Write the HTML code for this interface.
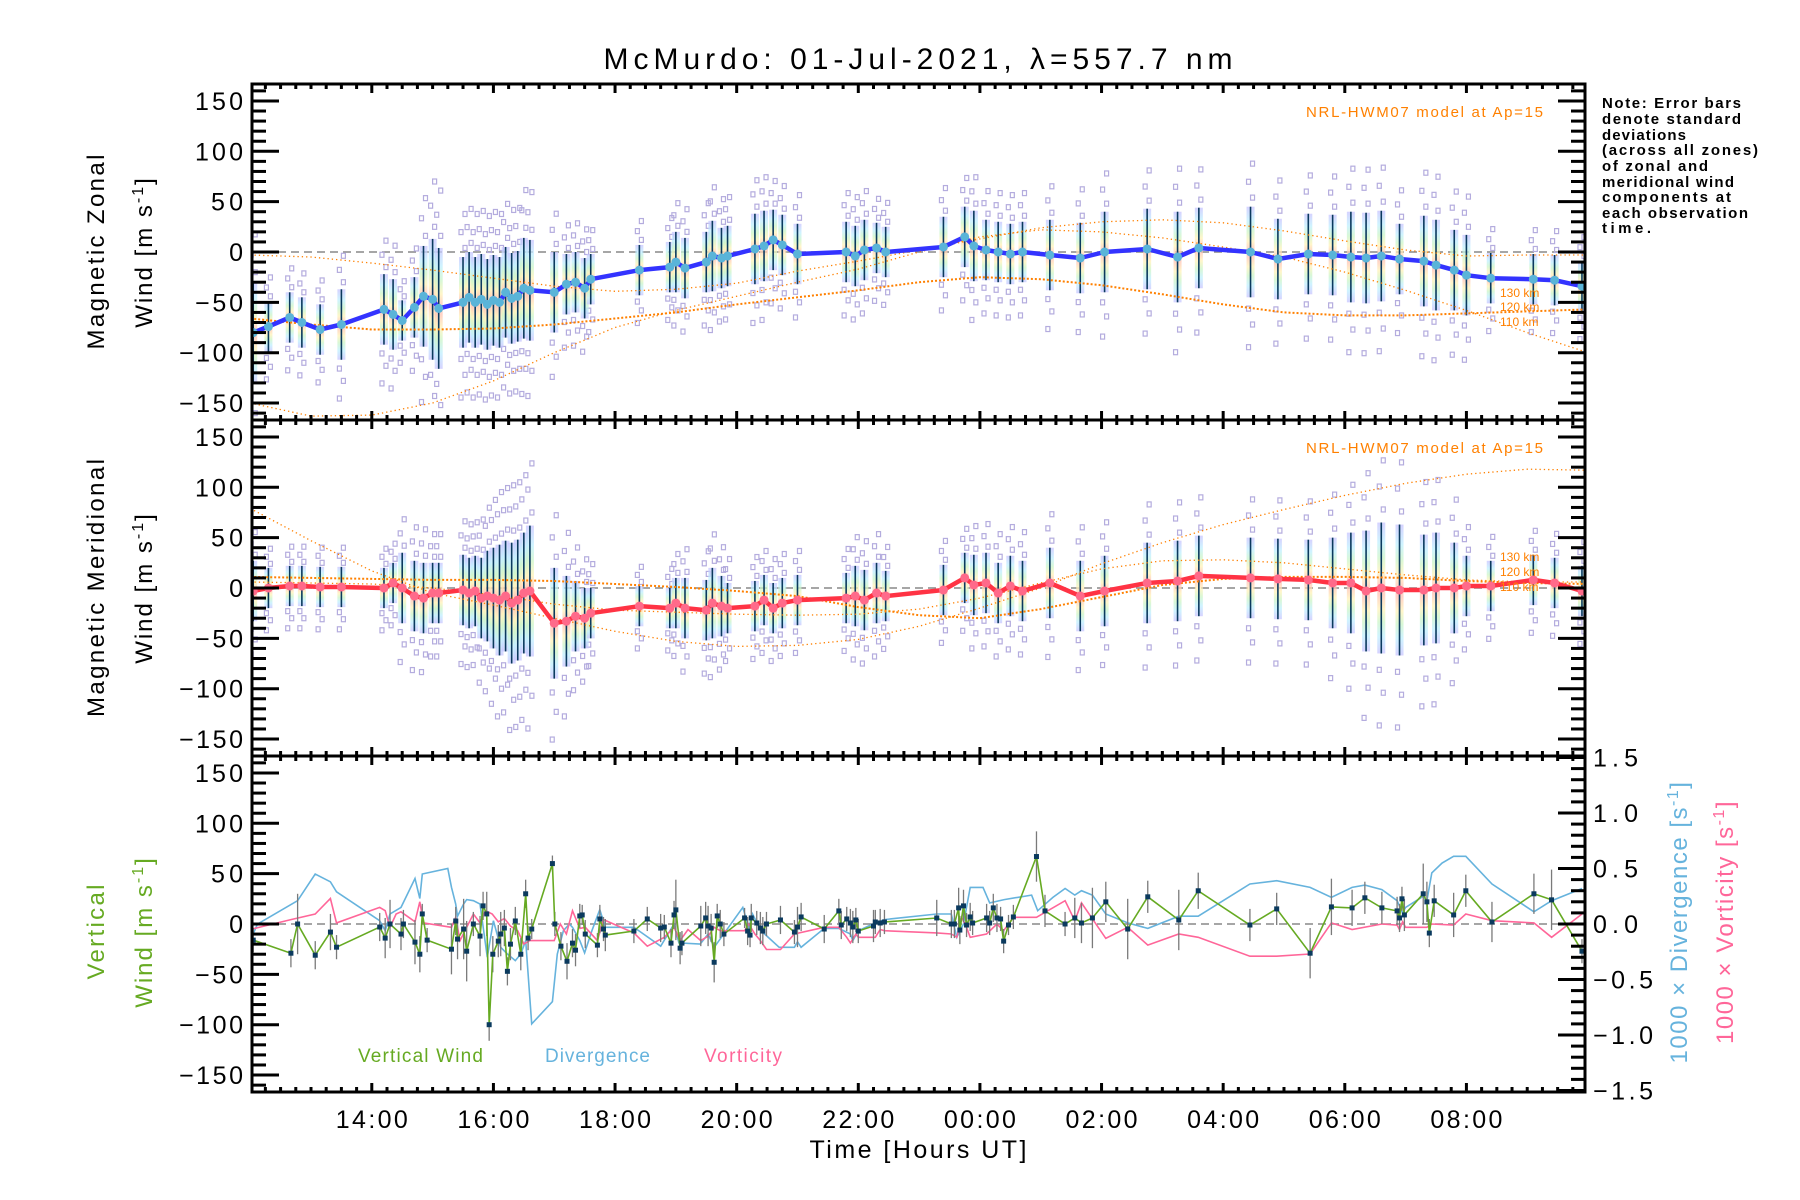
<!DOCTYPE html>
<html><head><meta charset="utf-8"><title>McMurdo winds</title>
<style>
html,body{margin:0;padding:0;background:#fff;}
svg{display:block;font-family:"Liberation Sans",sans-serif;}
</style></head>
<body>
<svg id="chart" width="1800" height="1200" viewBox="0 0 1800 1200" xmlns="http://www.w3.org/2000/svg">
<defs>
<linearGradient id="strip" x1="0" y1="0" x2="0" y2="1">
<stop offset="0" stop-color="#c8c4ff"/><stop offset="0.15" stop-color="#bfefff"/><stop offset="0.27" stop-color="#ccf5c8"/><stop offset="0.38" stop-color="#fff3b8"/><stop offset="0.47" stop-color="#ffc4b4"/><stop offset="0.55" stop-color="#ffc4b4"/><stop offset="0.66" stop-color="#fff3b8"/><stop offset="0.76" stop-color="#ccf5c8"/><stop offset="0.87" stop-color="#bfefff"/><stop offset="1" stop-color="#c8c4ff"/>
</linearGradient>
<clipPath id="clip0"><rect x="252" y="84" width="1333" height="336"/></clipPath>
<clipPath id="clip1"><rect x="252" y="420" width="1333" height="336"/></clipPath>
<clipPath id="clip2"><rect x="252" y="756" width="1333" height="336"/></clipPath>
</defs>
<text x="918" y="69" font-size="30" text-anchor="middle" textLength="629">McMurdo: 01-Jul-2021, λ=557.7 nm</text>
<g id="layer"></g>
<g font-size="15" font-weight="bold">
<text x="1602" y="108" textLength="139">Note: Error bars</text>
<text x="1602" y="124" textLength="139">denote standard</text>
<text x="1602" y="140" textLength="84">deviations</text>
<text x="1602" y="155" textLength="156">(across all zones)</text>
<text x="1602" y="171" textLength="106">of zonal and</text>
<text x="1602" y="187" textLength="132">meridional wind</text>
<text x="1602" y="202" textLength="129">components at</text>
<text x="1602" y="218" textLength="146">each observation</text>
<text x="1602" y="233" textLength="49">time.</text>
</g>
<text transform="translate(104,252) rotate(-90)" font-size="24" text-anchor="middle" textLength="195">Magnetic Zonal</text>
<text transform="translate(152,252) rotate(-90)" font-size="24" text-anchor="middle" letter-spacing="2">Wind [m s<tspan dy="-9" font-size="16">-1</tspan><tspan dy="9">]</tspan></text>
<text transform="translate(104,588) rotate(-90)" font-size="24" text-anchor="middle" textLength="258">Magnetic Meridional</text>
<text transform="translate(152,588) rotate(-90)" font-size="24" text-anchor="middle" letter-spacing="2">Wind [m s<tspan dy="-9" font-size="16">-1</tspan><tspan dy="9">]</tspan></text>
<text transform="translate(104,932) rotate(-90)" font-size="24" text-anchor="middle" fill="#66aa22" textLength="95">Vertical</text>
<text transform="translate(152,932) rotate(-90)" font-size="24" text-anchor="middle" fill="#66aa22" letter-spacing="2">Wind [m s<tspan dy="-9" font-size="16">-1</tspan><tspan dy="9">]</tspan></text>
<text transform="translate(1687,922) rotate(-90)" font-size="24" text-anchor="middle" fill="#66b3dd" letter-spacing="1.5">1000 × Divergence [s<tspan dy="-9" font-size="16">-1</tspan><tspan dy="9">]</tspan></text>
<text transform="translate(1733,922) rotate(-90)" font-size="24" text-anchor="middle" fill="#ff6699" letter-spacing="1.5">1000 × Vorticity [s<tspan dy="-9" font-size="16">-1</tspan><tspan dy="9">]</tspan></text>
<text x="918" y="1158" font-size="25" text-anchor="middle" textLength="217">Time [Hours UT]</text>
<text x="358" y="1062" font-size="19" fill="#66aa22" textLength="125">Vertical Wind</text>
<text x="545" y="1062" font-size="19" fill="#66b3dd" textLength="105">Divergence</text>
<text x="704" y="1062" font-size="19" fill="#ff6699" textLength="78">Vorticity</text>
</svg>
<script>
const obsTimes=[12.05,12.3,12.65,12.85,13.15,13.5,14.2,14.35,14.5,14.7,14.85,15.0,15.1,15.5,15.6,15.7,15.8,15.9,16.0,16.1,16.2,16.3,16.4,16.5,16.6,17.0,17.2,17.35,17.5,17.6,18.4,18.9,19.0,19.15,19.5,19.6,19.75,19.85,20.3,20.45,20.6,20.75,21.0,21.8,21.95,22.1,22.3,22.45,23.4,23.75,23.9,24.1,24.3,24.5,24.7,25.15,25.65,26.05,26.75,27.25,27.6,28.45,28.9,29.4,29.8,30.1,30.35,30.6,30.9,31.3,31.5,31.8,32.0,32.4,33.1,33.45,33.9];
const zonalMean=[-80,-74,-65,-70,-77,-72,-57,-62,-68,-55,-44,-47,-56,-50,-45,-50,-47,-52,-48,-50,-40,-46,-44,-36,-38,-40,-32,-30,-36,-27,-18,-15,-10,-16,-10,-4,-6,-4,3,6,12,7,-2,0,-4,2,4,0,5,15,6,2,0,-2,0,-3,-6,0,3,-5,4,0,-7,-2,-3,-5,-6,-4,-7,-9,-13,-18,-23,-26,-27,-28,-34];
const zonalStd=[50,25,25,25,25,35,35,35,20,30,50,60,60,45,45,45,45,45,45,45,45,45,45,50,50,40,30,30,30,25,25,25,30,30,30,35,30,30,35,35,30,30,30,30,30,30,25,25,30,30,35,30,30,30,30,35,35,40,40,45,40,45,40,40,40,45,45,45,35,45,45,40,40,25,25,25,25];
const meridMean=[-3,0,2,2,1,1,0,5,0,-8,-10,-5,-5,-2,-5,-3,-10,-8,-10,-12,-8,-15,-12,-5,-3,-35,-33,-28,-30,-25,-18,-20,-15,-20,-22,-15,-18,-20,-18,-12,-20,-15,-12,-10,-8,-12,-5,-8,-2,10,3,5,-5,2,-3,5,-8,-3,5,7,12,10,9,8,5,5,-3,0,-2,-2,0,0,2,2,8,5,-3];
const meridStd=[30,20,20,20,20,20,20,20,35,35,35,30,30,35,35,35,40,45,50,55,55,60,60,60,65,55,45,35,30,25,20,20,25,30,30,35,30,25,25,25,25,25,25,25,30,30,30,25,25,25,30,30,30,30,30,35,35,35,40,40,40,40,40,40,45,50,60,65,65,55,55,45,30,25,25,25,25];
const modelHours=[12,13,14,15,16,17,18,19,20,21,22,23,24,25,26,27,28,29,30,31,32,33,34];
const zonalModel130=[-3,-5,-11,-18,-26,-34,-39,-37,-31,-19,-9,2,13,24,30,32,29,21,11,2,-4,-3,-3];
const zonalModel120=[-66,-72,-77,-77,-76,-72,-66,-60,-52,-45,-38,-30,-25,-27,-33,-42,-52,-60,-63,-63,-61,-59,-57];
const zonalModel110=[-150,-163,-162,-150,-128,-100,-75,-58,-44,-30,-17,0,15,22,20,14,5,-5,-20,-38,-58,-80,-100];
const meridModel130=[6,5,4,0,-7,-16,-22,-24,-26,-27,-26,-21,-10,5,19,27,28,25,19,13,8,6,6];
const meridModel120=[11,10,9,8,8,7,4,1,-3,-8,-19,-27,-30,-21,-9,3,9,11,11,10,7,5,4];
const meridModel110=[79,47,17,-5,-17,-30,-43,-53,-58,-57,-51,-38,-20,0,24,45,63,78,92,104,113,118,117];
const vertTimes=[12.05,12.67,12.78,13.07,13.32,13.42,14.13,14.22,14.30,14.48,14.52,14.71,14.79,14.83,14.91,15.31,15.38,15.41,15.51,15.56,15.67,15.78,15.83,15.89,15.93,15.99,16.08,16.12,16.18,16.23,16.28,16.36,16.45,16.53,16.57,16.63,16.97,17.01,17.11,17.21,17.3,17.35,17.42,17.46,17.51,17.71,17.75,17.81,17.84,18.31,18.53,18.75,18.81,18.92,18.97,19.0,19.07,19.1,19.41,19.49,19.53,19.58,19.63,19.68,19.73,19.79,20.13,20.18,20.22,20.24,20.33,20.39,20.43,20.49,20.72,20.95,21.0,21.06,21.44,21.68,21.72,21.81,21.87,21.91,21.96,22.0,22.25,22.28,22.36,22.43,23.29,23.53,23.58,23.65,23.67,23.73,23.78,23.84,23.88,24.11,24.16,24.22,24.28,24.34,24.39,24.47,24.55,24.93,25.07,25.4,25.56,25.67,25.85,26.07,26.43,26.76,27.27,27.59,28.44,28.88,29.43,29.78,30.12,30.33,30.61,30.86,30.9,30.94,30.98,31.29,31.35,31.39,31.47,31.79,31.99,32.42,33.11,33.4,33.9];
const vertWind=[-16,-29,0,-31,-8,-23,-3,-14,0,-10,0,-18,-30,10,-16,-25,3,-15,-5,-27,0,-12,18,10,-100,-30,-17,-10,-4,-47,-20,3,-30,30,-14,-5,60,0,-22,-37,-19,-26,8,9,-10,-21,5,-5,-11,-7,5,-4,-3,-19,9,14,-24,-19,-2,6,-2,-4,-38,8,0,-10,6,-7,-11,6,1,-4,-7,0,4,-8,-3,7,-5,13,-1,5,1,-3,4,-7,-2,2,1,2,6,0,0,16,-6,18,-1,7,1,6,1,16,6,5,-17,-1,7,67,13,0,6,1,6,22,-5,27,4,33,-1,15,-29,17,16,26,16,13,6,25,9,30,22,-9,23,9,33,2,30,24,-27];
const vertErr=[12,14,30,14,18,12,14,20,24,16,14,22,18,10,12,25,14,20,30,30,12,20,14,22,16,18,16,22,18,14,16,14,16,14,12,10,8,12,14,18,14,16,12,10,14,12,14,12,16,12,12,14,12,14,14,30,16,12,20,16,20,14,20,12,14,12,10,14,12,14,12,16,14,12,14,12,20,14,14,12,14,12,14,16,12,12,16,12,14,12,18,14,14,20,14,16,12,14,12,14,12,14,14,12,12,10,12,25,16,12,20,20,30,20,30,16,30,18,16,16,25,28,18,16,16,14,14,12,16,30,20,14,16,22,16,20,20,30,12];
const divTimes=[12.0,12.12,12.78,13.07,13.32,13.42,14.13,14.22,14.3,14.48,14.71,14.79,14.83,15.25,15.31,15.38,15.41,15.51,15.56,15.67,15.78,15.9,16.0,16.12,16.23,16.36,16.45,16.53,16.63,16.97,17.05,17.15,17.25,17.3,17.42,17.5,17.62,17.75,17.84,18.31,18.75,18.97,19.05,19.4,19.53,19.63,20.1,20.2,20.26,20.4,20.7,20.95,21.0,21.06,21.44,21.68,21.87,21.91,22.0,22.28,22.43,23.29,23.53,23.62,23.73,23.84,24.05,24.16,24.4,24.85,24.95,25.2,25.4,25.56,25.67,25.85,26.07,26.43,26.76,27.27,27.59,28.44,28.88,29.43,29.78,30.12,30.33,30.61,30.86,30.95,31.0,31.29,31.35,31.43,31.6,31.79,31.99,32.42,33.11,33.4,33.9];
const divValues=[-0.15,0.0,0.21,0.45,0.38,0.29,0.03,-0.06,0.09,0.15,0.41,0.23,0.45,0.5,0.33,0.18,0.07,0.18,0.22,0.21,0.18,-0.3,0.03,-0.21,-0.27,-0.33,-0.27,-0.15,-0.9,-0.7,-0.27,-0.06,0.0,-0.03,-0.15,-0.26,-0.06,0.13,-0.03,-0.03,-0.2,0,-0.17,-0.18,-0.09,-0.21,0.15,-0.03,0.09,-0.06,-0.21,-0.21,-0.16,-0.21,-0.04,-0.04,-0.09,-0.15,-0.06,0.01,0.04,0.09,0.09,-0.12,0,0.33,0.33,0.19,0.22,0.26,0.12,0.24,0.32,0.26,0.3,0.26,0.09,0.01,-0.04,0.07,0.07,0.36,0.39,0.33,0.24,0.33,0.35,0.31,0.21,0.1,0.15,0.25,0.21,0.46,0.55,0.61,0.61,0.36,0.11,0.21,0.32];
const vortTimes=[12.0,12.67,13.07,13.32,13.42,14.13,14.22,14.3,14.4,14.48,14.71,14.79,14.85,15.31,15.38,15.45,15.56,15.67,15.78,15.87,15.98,16.08,16.18,16.28,16.4,16.5,16.6,17.0,17.1,17.2,17.3,17.42,17.51,17.71,17.81,18.31,18.53,18.81,18.97,19.07,19.2,19.41,19.53,19.63,19.73,20.13,20.2,20.3,20.39,20.49,20.72,20.95,21.44,21.68,21.81,21.87,21.96,22.0,22.28,22.36,22.43,23.29,23.53,23.62,23.7,23.78,23.84,24.11,24.28,24.39,24.55,24.93,25.4,25.56,25.67,26.07,26.43,26.76,27.27,27.59,28.44,28.88,29.43,29.78,30.12,30.61,30.86,30.9,30.95,31.0,31.35,31.43,31.79,31.99,32.42,33.11,33.4,33.9];
const vortValues=[-0.05,0.04,0.09,0.23,0.01,0.15,0.12,-0.03,0.09,0.11,0.02,0.2,0.01,-0.03,0.06,-0.15,-0.03,0.09,0.01,0.12,0.09,0.02,0.05,-0.02,-0.06,-0.18,-0.15,-0.15,0.0,-0.09,0.12,-0.04,-0.03,-0.15,0.04,-0.08,-0.2,-0.12,-0.03,-0.15,-0.05,-0.15,-0.11,-0.03,-0.06,-0.06,0,-0.09,-0.15,-0.23,-0.23,-0.09,-0.03,-0.03,-0.12,-0.17,-0.09,-0.12,-0.12,-0.05,-0.06,-0.08,-0.09,-0.12,0.06,-0.03,-0.12,-0.09,0,-0.06,0.06,0.06,0.21,0.03,0.19,-0.13,-0.03,-0.19,-0.09,-0.12,-0.29,-0.29,-0.27,0.01,-0.05,0,-0.01,-0.05,0.02,-0.03,-0.03,0,-0.01,0.09,0.03,0.01,-0.12,0.09];
const leftTicks=[-150,-100,-50,0,50,100,150];
const leftTickLabels=["−150","−100","−50","0","50","100","150"];
const rightTicks=[-1.5,-1.0,-0.5,0.0,0.5,1.0,1.5];
const rightTickLabels=["−1.5","−1.0","−0.5","0.0","0.5","1.0","1.5"];
const xTicks=[14,16,18,20,22,24,26,28,30,32];
const xTickLabels=["14:00","16:00","18:00","20:00","22:00","00:00","02:00","04:00","06:00","08:00"];

const NS="http://www.w3.org/2000/svg";
const layer=document.getElementById('layer');
const X0=252,X1=1585,H0=12.03,H1=33.95;
const xs=h=>X0+(h-H0)*(X1-X0)/(H1-H0);
const PT=[84,420,756];
const ys=(p,v)=>PT[p]+168-v*1.007;
const yr=v=>PT[2]+168-v*111;
function mk(tag,attrs,parent){const e=document.createElementNS(NS,tag);for(const k in attrs)e.setAttribute(k,attrs[k]);(parent||layer).appendChild(e);return e;}
function grp(name,p){const g=mk('g',p===undefined?{}:{'clip-path':'url(#clip'+p+')'});


return g;}
function poly(times,vals,yf,attrs,parent,name){const d=times.map((t,i)=>(i?'L':'M')+xs(t).toFixed(1)+' '+yf(vals[i]).toFixed(1)).join(' ');const e=mk('path',Object.assign({d:d,fill:'none'},attrs),parent);


return e;}

const SCAT=[-2.1,-1.6,-1.25,1.2,1.55,1.95];
function windPanel(p,mean,std,lineColor,dotColor,models,nm){
  const g=grp(nm+'-plot',p);
  mk('line',{x1:X0,x2:X1,y1:ys(p,0),y2:ys(p,0),stroke:'#888','stroke-width':1.5,'stroke-dasharray':'8 5'},g);
  obsTimes.forEach((t,i)=>{const x=xs(t);
    SCAT.forEach((k,j)=>{const r=mk('rect',{x:x-2+(j%2?2:-2),y:ys(p,mean[i]+k*std[i])-2.5,width:4,height:5,fill:'none',stroke:'#b4acde','stroke-width':1.2},g);
      
      });
  });
  obsTimes.forEach((t,i)=>{const x=xs(t);
    const s=mk('rect',{x:x-4,y:ys(p,mean[i]+std[i]),width:8,height:2*std[i]*1.007,fill:'url(#strip)',opacity:0.75},g);
    
    
    const b=mk('line',{x1:x,x2:x,y1:ys(p,mean[i]+std[i]),y2:ys(p,mean[i]-std[i]),stroke:'#0b3a5e','stroke-width':1.6},g);
    
    
  });
  models.forEach((m,j)=>{poly(modelHours,m,v=>ys(p,v),{stroke:'#ff8000','stroke-width':j==1?2:1.3,'stroke-dasharray':j==1?'2 2':'1.3 3'},g,nm+'-model-'+(130-10*j)+'km');});
  poly(obsTimes,mean,v=>ys(p,v),{stroke:lineColor,'stroke-width':4.5,'stroke-linejoin':'round'},g,nm+'-mean-line');
  obsTimes.forEach((t,i)=>{const c=mk('circle',{cx:xs(t),cy:ys(p,mean[i]),r:4.5,fill:dotColor},g);
    
    });
  const lab=mk('text',{x:1543,y:PT[p]+33,'font-size':15,fill:'#ff8000','text-anchor':'end',textLength:237});
  lab.textContent='NRL-HWM07 model at Ap=15';
  
  
  const alt=p==0?[297,311,326]:[561,576,591];
  ['130 km','120 km','110 km'].forEach((s,j)=>{const t=mk('text',{x:1500,y:alt[j],'font-size':12,fill:'#ff8000'});t.textContent=s;
    
    });
}
windPanel(0,zonalMean,zonalStd,'#3333ff','#5ab4d8',[zonalModel130,zonalModel120,zonalModel110],'zonal');
windPanel(1,meridMean,meridStd,'#ff3344','#ff6a8a',[meridModel130,meridModel120,meridModel110],'meridional');

// panel 3
const g3=grp('vertical-plot',2);
mk('line',{x1:X0,x2:X1,y1:ys(2,0),y2:ys(2,0),stroke:'#888','stroke-width':1.5,'stroke-dasharray':'8 5'},g3);
poly(divTimes,divValues,yr,{stroke:'#66b3dd','stroke-width':1.6},g3,'divergence-line');
poly(vortTimes,vortValues,yr,{stroke:'#ff6699','stroke-width':1.6},g3,'vorticity-line');
vertTimes.forEach((t,i)=>{const b=mk('line',{x1:xs(t),x2:xs(t),y1:ys(2,vertWind[i]+vertErr[i]),y2:ys(2,vertWind[i]-vertErr[i]),stroke:'#7a7a7a','stroke-width':1.3},g3);
  
  });
poly(vertTimes,vertWind,v=>ys(2,v),{stroke:'#66aa22','stroke-width':1.6},g3,'vertical-wind-line');
vertTimes.forEach((t,i)=>{const r=mk('rect',{x:xs(t)-2.5,y:ys(2,vertWind[i])-2.5,width:5,height:5,fill:'#0b3a5e'},g3);
  
  });

// axes
const ax=grp('axes');
for(let p=0;p<3;p++){
  const fr=mk('rect',{x:X0,y:PT[p],width:X1-X0,height:336,fill:'none',stroke:'#000','stroke-width':3},ax);
  
  
  for(let v=-160;v<=160;v+=10){const maj=v%50===0;const y=ys(p,v);
    mk('line',{x1:X0,x2:X0+(maj?27:14),y1:y,y2:y,stroke:'#000','stroke-width':3},ax);
    if(p<2) mk('line',{x1:X1,x2:X1-(maj?27:14),y1:y,y2:y,stroke:'#000','stroke-width':3},ax);}
  leftTicks.forEach((v,i)=>{const t=mk('text',{x:243,y:ys(p,v)+9,'font-size':25,'text-anchor':'end',textLength:leftTickLabels[i].length*16},ax);t.textContent=leftTickLabels[i];
    
    });
  for(let h=12.25;h<H1;h+=0.25){const maj=Math.abs(h%2)<0.01;const x=xs(h);
    mk('line',{x1:x,x2:x,y1:PT[p],y2:PT[p]+(maj?9:5),stroke:'#000','stroke-width':3},ax);
    mk('line',{x1:x,x2:x,y1:PT[p]+336,y2:PT[p]+336-(maj?9:5),stroke:'#000','stroke-width':3},ax);}
}
for(let v=-1.5;v<=1.51;v+=0.1){const maj=Math.abs(Math.round(v*10))%5===0;const y=yr(v);
  mk('line',{x1:X1,x2:X1-(maj?27:14),y1:y,y2:y,stroke:'#000','stroke-width':3},ax);}
rightTicks.forEach((v,i)=>{const t=mk('text',{x:1593,y:yr(v)+9,'font-size':25,textLength:rightTickLabels[i].length*15},ax);t.textContent=rightTickLabels[i];
  
  });
xTicks.forEach((h,i)=>{const t=mk('text',{x:xs(h),y:1128,'font-size':25,'text-anchor':'middle',textLength:72},ax);t.textContent=xTickLabels[i];
  
  });
</script>
</body></html>
